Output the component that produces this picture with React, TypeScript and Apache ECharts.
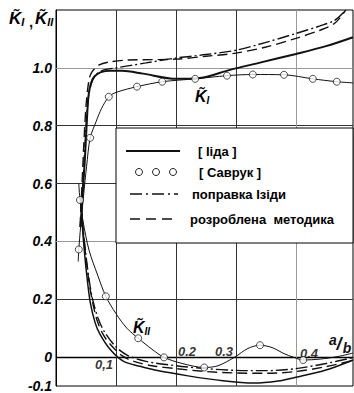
import React, { useEffect, useRef } from "react";
import * as echarts from "echarts";

// ---- data (a/b, value) ----
const kiIida = [[0.041,0.45],[0.044,0.55],[0.048,0.68],[0.051,0.8],[0.054,0.9],[0.058,0.945],[0.064,0.97],[0.075,0.985],[0.09,0.99],[0.11,0.99],[0.145,0.98],[0.2,0.962],[0.24,0.965],[0.29,0.993],[0.34,1.018],[0.4,1.048],[0.45,1.075],[0.495,1.106]];
const kiiIida = [[0.041,0.55],[0.044,0.45],[0.048,0.35],[0.052,0.27],[0.057,0.19],[0.065,0.12],[0.073,0.08],[0.09,0.027],[0.112,-0.014],[0.14,-0.032],[0.165,-0.045],[0.22,-0.065],[0.278,-0.082],[0.33,-0.09],[0.37,-0.083],[0.4,-0.07],[0.45,-0.045],[0.495,-0.01]];
const kiIsida = [[0.041,0.45],[0.045,0.6],[0.049,0.76],[0.053,0.88],[0.058,0.94],[0.066,0.975],[0.08,0.993],[0.1,1.0],[0.15,1.017],[0.2,1.034],[0.25,1.046],[0.3,1.061],[0.35,1.088],[0.4,1.119],[0.44,1.145],[0.465,1.165],[0.483,1.2]];
const kiiIsida = [[0.041,0.55],[0.045,0.45],[0.05,0.35],[0.055,0.27],[0.061,0.2],[0.07,0.135],[0.08,0.09],[0.1,0.035],[0.12,0.005],[0.15,-0.015],[0.2,-0.03],[0.25,-0.04],[0.3,-0.046],[0.35,-0.047],[0.4,-0.04],[0.45,-0.022],[0.495,-0.002]];
const kiDev = [[0.04,0.45],[0.043,0.58],[0.046,0.72],[0.05,0.867],[0.055,0.959],[0.06,0.986],[0.072,1.01],[0.088,1.02],[0.12,1.027],[0.2,1.03],[0.25,1.04],[0.3,1.051],[0.35,1.072],[0.4,1.102],[0.44,1.13],[0.465,1.155],[0.483,1.2]];
const kiiDev = [[0.041,0.55],[0.045,0.44],[0.05,0.34],[0.055,0.26],[0.06,0.2],[0.068,0.13],[0.078,0.08],[0.09,0.045],[0.11,0.005],[0.13,-0.015],[0.16,-0.03],[0.2,-0.04],[0.25,-0.05],[0.3,-0.055],[0.35,-0.056],[0.4,-0.05],[0.45,-0.033],[0.495,-0.012]];
const kiSavrukLine = [[0.037,0.33],[0.038,0.372],[0.041,0.45],[0.046,0.56],[0.051,0.66],[0.057,0.758],[0.067,0.815],[0.076,0.86],[0.088,0.9],[0.1,0.915],[0.135,0.935],[0.177,0.952],[0.232,0.962],[0.285,0.973],[0.328,0.977],[0.38,0.976],[0.428,0.962],[0.468,0.952],[0.495,0.948]];
const kiiSavrukLine = [[0.038,0.6],[0.04,0.543],[0.045,0.47],[0.055,0.37],[0.07,0.28],[0.083,0.21],[0.1,0.15],[0.118,0.1],[0.137,0.065],[0.16,0.027],[0.18,-0.001],[0.21,-0.022],[0.247,-0.036],[0.27,-0.03],[0.298,0],[0.32,0.03],[0.34,0.041],[0.36,0.033],[0.38,0.012],[0.395,0],[0.412,-0.01],[0.44,-0.007],[0.47,0.002],[0.495,0.014]];
const savrukPoints = [[0.038,0.372],[0.057,0.758],[0.088,0.9],[0.135,0.935],[0.177,0.952],[0.232,0.962],[0.285,0.973],[0.328,0.977],[0.38,0.976],[0.428,0.962],[0.468,0.952],
  [0.04,0.543],[0.083,0.21],[0.137,0.065],[0.18,-0.001],[0.247,-0.036],[0.34,0.041],[0.412,-0.01]];

const xTicks = [0.1, 0.2, 0.3, 0.4];
const xTickLabels = ["0,1", "0.2", "0.3", "0.4"];
const yGrid = [0, 0.2, 0.4, 0.6, 0.8, 1.0];
const yLabelValues = [-0.1, 0, 0.2, 0.4, 0.6, 0.8, 1.0];
const yLabelTexts = ["-0.1", "0", "0.2", "0.4", "0.6", "0.8", "1.0"];
const legendNames = ["[ Ііда ]", "[ Саврук ]", "поправка Ізіди", "розроблена  методика"];

const FONT = '"Liberation Sans", Arial, sans-serif';
const INK = "#111";

// K with a combining tilde and a subscript, drawn as one rich text on one line
function kLabel(x: number, cy: number, sub: string, size: number) {
  const sSize = Math.round(size * 0.64);
  return {
    type: "text", x, y: cy, z: 12,
    style: {
      text: `{k|K\u0303}{s|${sub}}`,
      textAlign: "left", textVerticalAlign: "middle",
      rich: {
        k: { font: `italic bold ${size}px ${FONT}`, color: INK, lineHeight: size + 2 },
        s: { font: `italic bold ${sSize}px ${FONT}`, color: INK, verticalAlign: "bottom", lineHeight: sSize },
      },
    },
  };
}

export default function App() {
  const ref = useRef<HTMLDivElement>(null);
  useEffect(() => {
    document.body.style.margin = "0";
    const chart = echarts.init(ref.current!, null, { renderer: "svg" });
    const lineBase = (data: number[][], width: number, type: any) => ({
      type: "line",
      data,
      showSymbol: false,
      smooth: 0.3,
      z: 3,
      silent: true,
      lineStyle: { color: INK, width, type },
    });
    const gridMarks: any[] = [];
    yGrid.forEach((v) => {
      const gray = v === 1.0 || v === 0.4;
      gridMarks.push({ yAxis: v, lineStyle: { color: gray ? "#999" : v === 0 ? "#000" : "#333", width: v === 0 ? 1.3 : 1, type: "solid" } });
    });
    xTicks.forEach((v) => {
      gridMarks.push({ xAxis: v, lineStyle: { color: v === 0.4 ? "#999" : "#333", width: 1, type: "solid" } });
    });
    const tickOffsets = [[-12, 7], [11, -6], [-12, -6], [13, -4]];
    const option: any = {
      animation: false,
      grid: { left: 56, top: 10, width: 297, height: 379, show: true, borderColor: "#000", borderWidth: 1, containLabel: false },
      xAxis: {
        type: "value", min: 0, max: 0.495,
        axisLine: { show: false }, axisTick: { show: false }, axisLabel: { show: false }, splitLine: { show: false },
      },
      yAxis: {
        type: "value", min: -0.1, max: 1.2, interval: 0.1,
        axisLine: { show: true, lineStyle: { color: "#000" } }, axisTick: { show: false }, splitLine: { show: false },
        axisLabel: {
          margin: 4,
          color: "#000",
          fontFamily: FONT, fontStyle: "italic", fontWeight: "bold", fontSize: 14,
          formatter: (v: number) => {
            const r = Math.round(v * 10) / 10;
            const i = yLabelValues.findIndex((q) => Math.abs(q - r) < 1e-6);
            return i >= 0 ? yLabelTexts[i] : "";
          },
        },
      },
      series: [
        {
          type: "scatter", z: 1, silent: true, symbolSize: 0,
          data: xTicks.map((v, i) => ({
            value: [v, 0],
            label: {
              show: true, position: "inside", offset: tickOffsets[i], formatter: xTickLabels[i],
              fontFamily: FONT, fontStyle: "italic", fontWeight: "bold", fontSize: 13, color: "#000",
            },
          })),
          markLine: { silent: true, symbol: "none", label: { show: false }, data: gridMarks, z: 1 },
        },
        lineBase(kiIida, 2, "solid"),
        lineBase(kiiIida, 1.5, "solid"),
        lineBase(kiIsida, 1.4, [12, 3, 2, 3]),
        lineBase(kiiIsida, 1.4, [12, 3, 2, 3]),
        lineBase(kiDev, 1.4, [10, 5]),
        lineBase(kiiDev, 1.4, [10, 5]),
        lineBase(kiSavrukLine, 1, "solid"),
        lineBase(kiiSavrukLine, 1, "solid"),
        {
          type: "scatter", z: 4, silent: true, symbol: "circle", symbolSize: 7,
          data: savrukPoints,
          itemStyle: { color: "#fff", borderColor: "#222", borderWidth: 1 },
        },
      ],
      graphic: [
        { type: "rect", z: 10, shape: { x: 116, y: 128, width: 237, height: 115 }, style: { fill: "#fff", stroke: "#000", lineWidth: 1 } },
        { type: "line", z: 11, shape: { x1: 126, y1: 151, x2: 180, y2: 151 }, style: { stroke: INK, lineWidth: 2 } },
        { type: "circle", z: 11, shape: { cx: 139, cy: 172, r: 3.5 }, style: { fill: "#fff", stroke: "#222", lineWidth: 1 } },
        { type: "circle", z: 11, shape: { cx: 156, cy: 172, r: 3.5 }, style: { fill: "#fff", stroke: "#222", lineWidth: 1 } },
        { type: "circle", z: 11, shape: { cx: 173, cy: 172, r: 3.5 }, style: { fill: "#fff", stroke: "#222", lineWidth: 1 } },
        { type: "line", z: 11, shape: { x1: 130, y1: 194, x2: 178, y2: 194 }, style: { stroke: INK, lineWidth: 1.6, lineDash: [12, 4, 2, 4] } },
        { type: "line", z: 11, shape: { x1: 130, y1: 219, x2: 178, y2: 219 }, style: { stroke: INK, lineWidth: 1.6, lineDash: [10, 6] } },
        ...legendNames.map((t, i) => ({
          type: "text", z: 11, x: [198, 199, 192, 190][i], y: [151, 172, 194, 219][i],
          style: { text: t, font: `bold 13px ${FONT}`, fill: "#000", textAlign: "left", textVerticalAlign: "middle" },
        })),
        kLabel(9, 18, "I", 17),
        { type: "text", z: 12, x: 29, y: 21, style: { text: ",", font: `bold 15px ${FONT}`, fill: INK, textAlign: "left", textVerticalAlign: "middle" } },
        kLabel(35, 18, "II", 17),
        kLabel(195, 96, "I", 16),
        kLabel(133, 327, "II", 16),
        { type: "text", z: 12, x: 333, y: 340, style: { text: "a", font: `italic bold 14px ${FONT}`, fill: INK, textAlign: "center", textVerticalAlign: "middle" } },
        { type: "text", z: 12, x: 339, y: 344, style: { text: "/", font: `italic bold 18px ${FONT}`, fill: INK, textAlign: "center", textVerticalAlign: "middle" } },
        { type: "text", z: 12, x: 347, y: 348, style: { text: "b", font: `italic bold 14px ${FONT}`, fill: INK, textAlign: "center", textVerticalAlign: "middle" } },
      ],
    };
    chart.setOption(option);
    return () => chart.dispose();
  }, []);
  return <div ref={ref} style={{ width: 354, height: 393 }} />;
}
